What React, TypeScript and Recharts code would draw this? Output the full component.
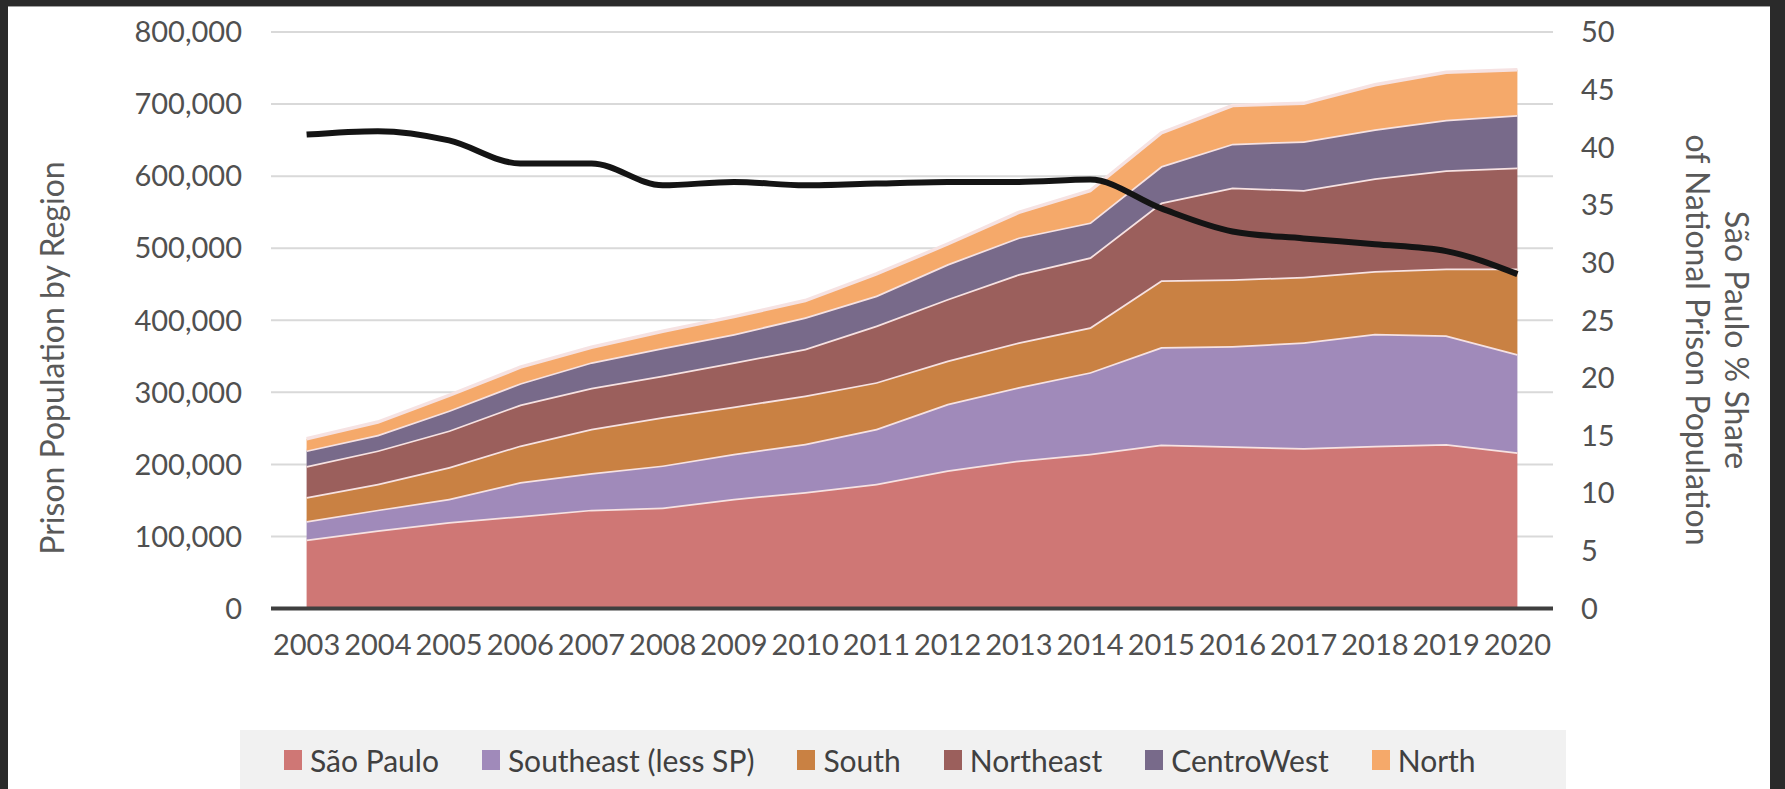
import React from "react";
import { Area, CartesianGrid, ComposedChart, Line, XAxis, YAxis } from "recharts";

const years = [
  "2003", "2004", "2005", "2006", "2007", "2008", "2009", "2010", "2011",
  "2012", "2013", "2014", "2015", "2016", "2017", "2018", "2019", "2020",
];

// prisoners per region, stacked bottom to top
const saoPaulo = [
  95600, 108500, 120000, 128400, 137200, 140000, 152400, 161700, 173200,
  191700, 205500, 214800, 227700, 225200, 222800, 225700, 228200, 216800,
];
const southeast = [
  25900, 28700, 32400, 47100, 50800, 58600, 62400, 66900, 76200,
  92300, 101700, 113200, 135200, 139200, 146500, 155500, 151000, 136200,
];
const south = [
  33200, 36000, 43900, 50800, 61400, 67000, 65600, 67000, 64700,
  60100, 62300, 62300, 92500, 92600, 91100, 87100, 92600, 118800,
];
const northeast = [
  43000, 46200, 50800, 56800, 56800, 57700, 61400, 64700, 78500,
  85500, 94700, 97000, 108000, 127200, 120300, 128700, 136200, 140100,
];
const centroWest = [
  21700, 21600, 27700, 29600, 35600, 38400, 39200, 43900, 41600,
  48400, 50800, 48500, 50500, 60800, 67800, 67900, 70200, 72800,
];
const north = [
  16200, 17700, 20800, 22200, 20800, 23100, 24000, 23100, 30000,
  27800, 34700, 43900, 46000, 53000, 52500, 61800, 65800, 62800,
];

// São Paulo % share of national prison population
const spShare = [
  41.1, 41.4, 40.6, 38.6, 38.6, 36.7, 37.0, 36.7, 36.85,
  37.0, 37.0, 37.2, 34.7, 32.7, 32.1, 31.6, 31.0, 29.0,
];

const leftTicks = [0, 100000, 200000, 300000, 400000, 500000, 600000, 700000, 800000];
const rightTicks = [0, 5, 10, 15, 20, 25, 30, 35, 40, 45, 50];

const series = [
  { key: "saoPaulo", name: "São Paulo", color: "#cf7775", values: saoPaulo },
  { key: "southeast", name: "Southeast (less SP)", color: "#a08aba", values: southeast },
  { key: "south", name: "South", color: "#c98143", values: south },
  { key: "northeast", name: "Northeast", color: "#9b5f5c", values: northeast },
  { key: "centroWest", name: "CentroWest", color: "#786a8a", values: centroWest },
  { key: "north", name: "North", color: "#f5a96a", values: north },
];

const data = years.map((year, i) => {
  const row: Record<string, string | number> = { year, share: spShare[i] };
  series.forEach((s) => {
    row[s.key] = s.values[i];
  });
  return row;
});

const font = "Lato, 'Open Sans', sans-serif";
const tickStyle = { fontSize: 29, fill: "#505050", fontFamily: font };
const titleStyle: React.CSSProperties = {
  position: "absolute",
  whiteSpace: "nowrap",
  fontFamily: font,
  fontSize: 32,
  color: "#595959",
};

export default function App() {
  return (
    <div
      style={{
        position: "fixed",
        left: 0,
        top: 0,
        width: 1785,
        height: 789,
        background: "#2a2a2a",
        overflow: "hidden",
      }}
    >
      <div
        style={{
          position: "absolute",
          left: 8,
          top: 6,
          width: 1762,
          height: 783,
          background: "#ffffff",
          borderTop: "1px solid #a0a0a0",
        }}
      />
      <div style={{ position: "absolute", left: 0, top: 0 }}>
        <ComposedChart
          width={1785}
          height={700}
          data={data}
          margin={{ top: 32, right: 0, bottom: 0, left: 0 }}
        >
          <CartesianGrid
            yAxisId="left"
            vertical={false}
            stroke="#d9d9d9"
            strokeWidth={2}
          />
          <XAxis
            dataKey="year"
            interval={0}
            height={91.5}
            padding={{ left: 35.6, right: 35.6 }}
            tickLine={false}
            tickSize={0}
            tickMargin={26}
            axisLine={{ stroke: "#3f3f3f", strokeWidth: 4 }}
            tick={tickStyle}
          />
          <YAxis
            yAxisId="left"
            width={271}
            domain={[0, 800000]}
            ticks={leftTicks}
            axisLine={false}
            tickLine={false}
            tickSize={0}
            tickMargin={29}
            tick={tickStyle}
            tickFormatter={(v) => Number(v).toLocaleString("en-US")}
          />
          <YAxis
            yAxisId="right"
            orientation="right"
            width={232}
            domain={[0, 50]}
            ticks={rightTicks}
            axisLine={false}
            tickLine={false}
            tickSize={0}
            tickMargin={28}
            tick={tickStyle}
          />
          {series.map((s) => (
            <Area
              key={s.key}
              yAxisId="left"
              type="linear"
              dataKey={s.key}
              name={s.name}
              stackId="regions"
              fill={s.color}
              fillOpacity={1}
              stroke="#f6e2e2"
              strokeWidth={3.5}
              isAnimationActive={false}
            />
          ))}
          <Line
            yAxisId="right"
            type="monotone"
            dataKey="share"
            stroke="#141414"
            strokeWidth={6}
            dot={false}
            isAnimationActive={false}
          />
        </ComposedChart>
      </div>

      <div
        style={{
          ...titleStyle,
          left: 51,
          top: 358,
          transform: "translate(-50%, -50%) rotate(-90deg)",
        }}
      >
        Prison Population by Region
      </div>
      <div
        style={{
          ...titleStyle,
          left: 1737,
          top: 340,
          transform: "translate(-50%, -50%) rotate(90deg)",
        }}
      >
        São Paulo % Share
      </div>
      <div
        style={{
          ...titleStyle,
          left: 1698,
          top: 340,
          transform: "translate(-50%, -50%) rotate(90deg)",
        }}
      >
        of National Prison Population
      </div>

      <div
        style={{
          position: "absolute",
          left: 240,
          top: 730,
          width: 1326,
          height: 59,
          background: "#f1f1f1",
          display: "flex",
          alignItems: "center",
          paddingLeft: 44,
          boxSizing: "border-box",
          fontFamily: font,
          fontSize: 30,
          color: "#404040",
        }}
      >
        {series.map((s, i) => (
          <div
            key={s.key}
            style={{
              display: "flex",
              alignItems: "center",
              marginLeft: i === 0 ? 0 : 43,
              whiteSpace: "nowrap",
            }}
          >
            <span
              style={{
                display: "inline-block",
                width: 18,
                height: 20,
                background: s.color,
                marginRight: 8,
              }}
            />
            {s.name}
          </div>
        ))}
      </div>
    </div>
  );
}
